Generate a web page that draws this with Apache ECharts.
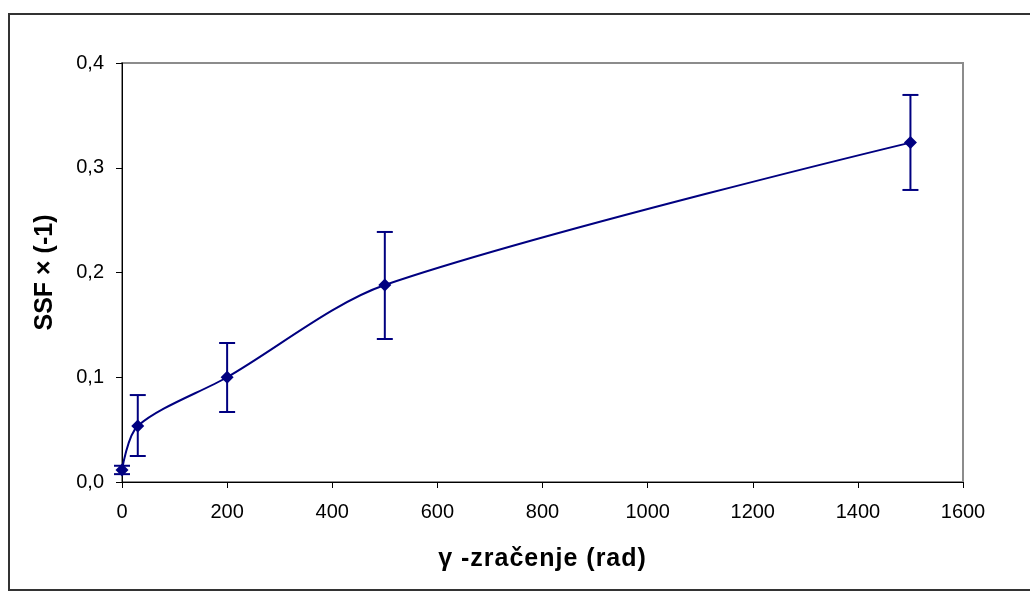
<!DOCTYPE html>
<html>
<head>
<meta charset="utf-8">
<script src="https://cdn.jsdelivr.net/npm/echarts@6/dist/echarts.min.js"></script>
<style>
html,body{margin:0;padding:0;background:#fff;}
#chart{width:1030px;height:591px;}
</style>
</head>
<body>
<div id="chart"></div>
<script>
var doses = [0, 30, 200, 500, 1500];
var ssf = [0.0115, 0.0535, 0.1, 0.188, 0.324];
var errLow = [0.0075, 0.0248, 0.0668, 0.1365, 0.2788];
var errHigh = [0.0155, 0.083, 0.1327, 0.2387, 0.3695];
var xTitle = 'γ -zračenje (rad)';
var yTitle = 'SSF × (-1)';

var navy = '#000080';
var FONT = 'Liberation Sans, Arial, sans-serif';
var lineData = doses.map(function (d, i) { return [d, ssf[i]]; });
var errData = doses.map(function (d, i) { return [d, errLow[i], errHigh[i]]; });

// spaced-out title via rich text fragments (emulates letter spacing)
var spacedTitle = xTitle.split('').map(function (ch) { return '{c|' + ch + '}'; }).join('');

var chart = echarts.init(document.getElementById('chart'), null, {renderer: 'canvas'});
chart.setOption({
  animation: false,
  backgroundColor: '#fff',
  textStyle: {fontFamily: FONT},
  graphic: [{
    type: 'rect',
    shape: {x: 9, y: 14, width: 1100, height: 576},
    style: {fill: 'none', stroke: '#333', lineWidth: 2},
    silent: true
  }],
  grid: {left: 122, top: 63, right: 67, bottom: 109, show: true, borderColor: '#8c8c8c', borderWidth: 2, backgroundColor: 'transparent'},
  xAxis: {
    type: 'value', min: 0, max: 1600, interval: 200,
    name: spacedTitle, nameLocation: 'middle', nameGap: 65,
    nameTextStyle: {
      fontSize: 25, fontWeight: 'bold', color: '#000', fontFamily: FONT,
      rich: {c: {fontSize: 25, fontWeight: 'bold', color: '#000', fontFamily: FONT, padding: [0, 1, 0, 0]}}
    },
    axisLine: {show: true, onZero: false, lineStyle: {color: '#000', width: 1}},
    axisTick: {show: true, length: 6, lineStyle: {color: '#000'}},
    axisLabel: {fontSize: 20, color: '#000', margin: 20, fontFamily: FONT,
      formatter: function (v) { return String(v); }},
    splitLine: {show: false}
  },
  yAxis: {
    type: 'value', min: 0, max: 0.4, interval: 0.1,
    name: yTitle, nameLocation: 'middle', nameGap: 64,
    nameTextStyle: {fontSize: 25, fontWeight: 'bold', color: '#000', fontFamily: FONT},
    axisLine: {show: true, lineStyle: {color: '#000', width: 1}},
    axisTick: {show: true, length: 6, lineStyle: {color: '#000'}},
    axisLabel: {fontSize: 20, color: '#000', margin: 18, fontFamily: FONT,
      formatter: function (v) { return v.toFixed(1).replace('.', ','); }},
    splitLine: {show: false}
  },
  series: [{
    type: 'custom',
    data: errData,
    z: 3,
    renderItem: function (params, api) {
      var x = api.value(0);
      var lo = api.coord([x, api.value(1)]);
      var hi = api.coord([x, api.value(2)]);
      var w = 8;
      var st = {stroke: navy, lineWidth: 2, fill: 'none'};
      return {type: 'group', children: [
        {type: 'line', shape: {x1: lo[0], y1: lo[1], x2: hi[0], y2: hi[1]}, style: st},
        {type: 'line', shape: {x1: lo[0] - w, y1: lo[1], x2: lo[0] + w, y2: lo[1]}, style: st},
        {type: 'line', shape: {x1: hi[0] - w, y1: hi[1], x2: hi[0] + w, y2: hi[1]}, style: st}
      ]};
    }
  }, {
    type: 'line',
    data: lineData,
    smooth: 0.3,
    symbol: 'diamond',
    symbolSize: 13,
    z: 4,
    lineStyle: {color: navy, width: 2},
    itemStyle: {color: navy}
  }]
});
</script>
</body>
</html>
